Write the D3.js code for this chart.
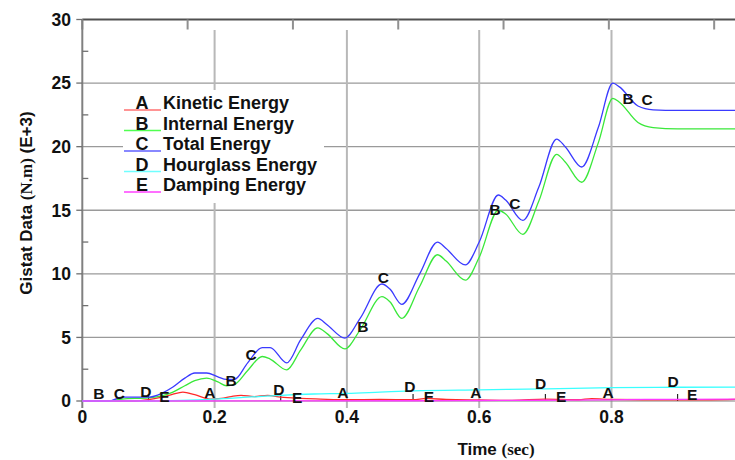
<!DOCTYPE html>
<html>
<head>
<meta charset="utf-8">
<script src="https://cdn.jsdelivr.net/npm/d3@7"></script>
<style>
  body { margin: 0; background: #fff; }
  svg { display: block; font-family: "Liberation Sans", Arial, sans-serif; }
</style>
</head>
<body>
<div id="container"></div>
<script>
/* CONSTANTS AND GLOBALS */
const width = 735, height = 460;

/* DATA */
// shared time base for internal (B) and total (C) energy
const timeBC = [0, 0.04, 0.06, 0.1, 0.12, 0.137, 0.155, 0.17, 0.188, 0.205, 0.218, 0.23, 0.25, 0.272, 0.284,
  0.309, 0.33, 0.356, 0.37, 0.397, 0.42, 0.453, 0.465, 0.483, 0.51, 0.537, 0.55, 0.579, 0.6, 0.629,
  0.64, 0.666, 0.69, 0.717, 0.73, 0.755, 0.78, 0.802, 0.812, 0.84, 0.863, 0.9, 0.95, 1.0];
const internalEnergy = [0, 0, 0.15, 0.25, 0.4, 0.7, 1.2, 1.6, 1.8, 1.5, 1.2, 1.3, 2.4, 3.5, 3.3,
  2.45, 4.0, 5.75, 5.3, 4.1, 5.6, 8.2, 7.8, 6.5, 9.0, 11.5, 11.0, 9.5, 11.3, 15.0,
  14.7, 13.1, 15.7, 19.4, 18.8, 17.2, 20.3, 23.8, 23.5, 21.9, 21.5, 21.4, 21.4, 21.4];
const totalEnergy = [0, 0, 0.3, 0.3, 0.6, 1.1, 1.8, 2.2, 2.2, 1.9, 1.7, 1.7, 3.0, 4.2, 4.2,
  3.0, 4.8, 6.5, 6.0, 4.95, 6.5, 9.2, 8.8, 7.6, 10.0, 12.5, 12.0, 10.7, 12.5, 16.2,
  15.8, 14.2, 16.8, 20.6, 20.0, 18.4, 21.5, 25.0, 24.7, 23.2, 22.9, 22.85, 22.85, 22.85];

const timeA = [0, 0.08, 0.1, 0.12, 0.135, 0.152, 0.17, 0.193, 0.21, 0.225, 0.24, 0.26, 0.28, 0.3, 0.33,
  0.36, 0.4, 0.45, 0.5, 0.52, 0.55, 0.6, 0.65, 0.7, 0.75, 0.77, 0.8, 0.85, 0.9, 0.95, 1.0];
const kineticEnergy = [0, 0, 0.1, 0.3, 0.5, 0.7, 0.5, 0.15, 0.2, 0.35, 0.45, 0.35, 0.45, 0.3, 0.2,
  0.15, 0.1, 0.12, 0.1, 0.2, 0.12, 0.08, 0.05, 0.15, 0.1, 0.18, 0.12, 0.1, 0.1, 0.1, 0.15];

const timeD = [0, 0.1, 0.15, 0.2, 0.25, 0.3, 0.35, 0.4, 0.45, 0.5, 0.6, 0.7, 0.8, 0.9, 1.0];
const hourglassEnergy = [0, 0, 0.05, 0.15, 0.3, 0.45, 0.55, 0.6, 0.7, 0.8, 0.88, 0.95, 1.05, 1.08, 1.1];

const timeE = [0, 0.5, 0.6, 0.7, 0.8, 0.85, 0.9, 1.0];
const dampingEnergy = [0, 0.02, 0.04, 0.06, 0.09, 0.12, 0.13, 0.15];

// letter markers along each curve: [time, value]
const labelsA = [[0.193, 0.71], [0.394, 0.71], [0.595, 0.71], [0.795, 0.71], [0.995, 0.71]];
const labelsB = [[0.025, 0.63], [0.225, 1.65], [0.424, 5.9], [0.624, 15.1], [0.825, 23.8]];
const labelsC = [[0.056, 0.63], [0.255, 3.7], [0.455, 9.7], [0.654, 15.5], [0.854, 23.7]];
const labelsD = [[0.096, 0.79], [0.297, 0.94], [0.495, 1.18], [0.693, 1.42], [0.893, 1.57]];
const labelsE = [[0.124, 0.39], [0.325, 0.31], [0.524, 0.39], [0.724, 0.39], [0.922, 0.55]];

const letters = ["A", "B", "C", "D", "E"];
const names = ["Kinetic Energy", "Internal Energy", "Total Energy", "Hourglass Energy", "Damping Energy"];
const colors = ["#ff2a2a", "#3ae83a", "#3a3aff", "#3affff", "#ff3aff"];
const legendColors = ["#ff7070", "#50ff50", "#6060ff", "#70ffff", "#ff40ff"];

const xTicks = [0, 0.2, 0.4, 0.6, 0.8];
const xMinorTicks = [0.1, 0.3, 0.5, 0.7, 0.9];
const yTicks = [0, 5, 10, 15, 20, 25, 30];
const yMinorTicks = [2.5, 7.5, 12.5, 17.5, 22.5, 27.5];
const topTicks = [0, 0.1592, 0.3184, 0.4776, 0.6368, 0.796, 0.9552];

const series = [
  { t: timeA, v: kineticEnergy, labels: labelsA },
  { t: timeBC, v: internalEnergy, labels: labelsB },
  { t: timeBC, v: totalEnergy, labels: labelsC },
  { t: timeD, v: hourglassEnergy, labels: labelsD },
  { t: timeE, v: dampingEnergy, labels: labelsE }
];

/* SCALES */
const xScale = d3.scaleLinear().domain([0, 1]).range([82.3, 743.8]);
const yScale = d3.scaleLinear().domain([0, 30]).range([401, 19.5]);

const svg = d3.select("#container").append("svg")
  .attr("width", width).attr("height", height);

// grid ---------------------
svg.append("g").selectAll("line")
  .data(yTicks.filter(d => d > 0 && d < 30))
  .join("line")
  .attr("x1", xScale(0)).attr("x2", width)
  .attr("y1", d => yScale(d)).attr("y2", d => yScale(d))
  .attr("stroke", "#9a9a9a").attr("stroke-width", 1.3);

svg.append("g").selectAll("line")
  .data(xTicks.filter(d => d > 0))
  .join("line")
  .attr("x1", d => xScale(d)).attr("x2", d => xScale(d))
  .attr("y1", 30).attr("y2", 408)
  .attr("stroke", "#b8b8b8").attr("stroke-width", 2);

// frame ---------------------
svg.append("line")
  .attr("x1", xScale(0)).attr("x2", width).attr("y1", yScale(30)).attr("y2", yScale(30))
  .attr("stroke", "#505050").attr("stroke-width", 2);
svg.append("g").selectAll("line")
  .data(topTicks).join("line")
  .attr("x1", d => xScale(d)).attr("x2", d => xScale(d))
  .attr("y1", yScale(30)).attr("y2", yScale(30) + 10)
  .attr("stroke", "#909090").attr("stroke-width", 2);

svg.append("line")
  .attr("x1", xScale(0)).attr("x2", xScale(0)).attr("y1", yScale(30)).attr("y2", 408)
  .attr("stroke", "#808080").attr("stroke-width", 2);
svg.append("line")
  .attr("x1", xScale(0)).attr("x2", width).attr("y1", yScale(0)).attr("y2", yScale(0))
  .attr("stroke", "#808080").attr("stroke-width", 1);

// y ticks
svg.append("g").selectAll("line")
  .data(yTicks).join("line")
  .attr("x1", xScale(0) - 6).attr("x2", xScale(0))
  .attr("y1", d => yScale(d)).attr("y2", d => yScale(d))
  .attr("stroke", "#707070").attr("stroke-width", 1.3);
svg.append("g").selectAll("line")
  .data(yMinorTicks).join("line")
  .attr("x1", xScale(0)).attr("x2", xScale(0) + 6)
  .attr("y1", d => yScale(d)).attr("y2", d => yScale(d))
  .attr("stroke", "#707070").attr("stroke-width", 1.3);
// x minor ticks
svg.append("g").selectAll("line")
  .data(xMinorTicks).join("line")
  .attr("x1", d => xScale(d)).attr("x2", d => xScale(d))
  .attr("y1", yScale(0)).attr("y2", yScale(0) - 7)
  .attr("stroke", "#000").attr("stroke-width", 1);

// tick labels
svg.append("g").selectAll("text")
  .data(yTicks).join("text")
  .attr("x", 71).attr("y", d => yScale(d)).attr("dy", "0.36em")
  .attr("text-anchor", "end")
  .style("font-size", "17.5px").style("font-weight", "bold").style("fill", "#111")
  .text(d => d);
svg.append("g").selectAll("text")
  .data(xTicks).join("text")
  .attr("x", d => xScale(d)).attr("y", 423)
  .attr("text-anchor", "middle")
  .style("font-size", "17.5px").style("font-weight", "bold").style("fill", "#111")
  .text(d => d);

// axis titles
const xt = svg.append("text")
  .attr("x", 496).attr("y", 455).attr("text-anchor", "middle")
  .style("font-size", "17px").style("font-weight", "bold").style("fill", "#111");
xt.append("tspan").text("Time ");
xt.append("tspan").style("font-family", "'Liberation Serif', 'Times New Roman', serif").text("(sec)");

const yt = svg.append("text")
  .attr("transform", "translate(32,203) rotate(-90)").attr("text-anchor", "middle")
  .style("font-size", "17px").style("font-weight", "bold").style("fill", "#111");
yt.append("tspan").text("Gistat Data ");
yt.append("tspan").style("font-family", "'Liberation Serif', 'Times New Roman', serif").text("(N.m)");
yt.append("tspan").text(" (E+3)");

// curves ---------------------
const line = d3.line()
  .x(d => xScale(d[0]))
  .y(d => yScale(d[1]))
  .curve(d3.curveMonotoneX);

series.forEach((s, i) => {
  svg.append("path")
    .datum(s.t.map((t, j) => [t, s.v[j]]))
    .attr("d", line)
    .attr("fill", "none")
    .attr("stroke", colors[i])
    .attr("stroke-width", 1.3);
});

// letter markers
series.forEach((s, i) => {
  svg.append("g").selectAll("text")
    .data(s.labels).join("text")
    .attr("x", d => xScale(d[0])).attr("y", d => yScale(d[1]))
    .attr("dy", "0.36em").attr("text-anchor", "middle")
    .style("font-size", "15.5px").style("font-weight", "bold").style("fill", "#111")
    .text(letters[i]);
});

// legend ---------------------
const legend = svg.append("g");
legend.append("rect")
  .attr("x", 123).attr("y", 90).attr("width", 201).attr("height", 113)
  .attr("fill", "#fff");
const rows = legend.selectAll("g").data(names).join("g")
  .attr("transform", (d, i) => `translate(0,${103 + i * 20.5})`);
rows.append("line")
  .attr("x1", 124).attr("x2", 161).attr("y1", 7).attr("y2", 7)
  .attr("stroke", (d, i) => legendColors[i]).attr("stroke-width", 1.5);
rows.append("text")
  .attr("x", 142).attr("dy", "0.36em").attr("text-anchor", "middle")
  .style("font-size", "18px").style("font-weight", "bold").style("fill", "#111")
  .text((d, i) => letters[i]);
rows.append("text")
  .attr("x", 163).attr("dy", "0.36em")
  .style("font-size", "18px").style("font-weight", "bold").style("fill", "#111")
  .text(d => d);
</script>
</body>
</html>
